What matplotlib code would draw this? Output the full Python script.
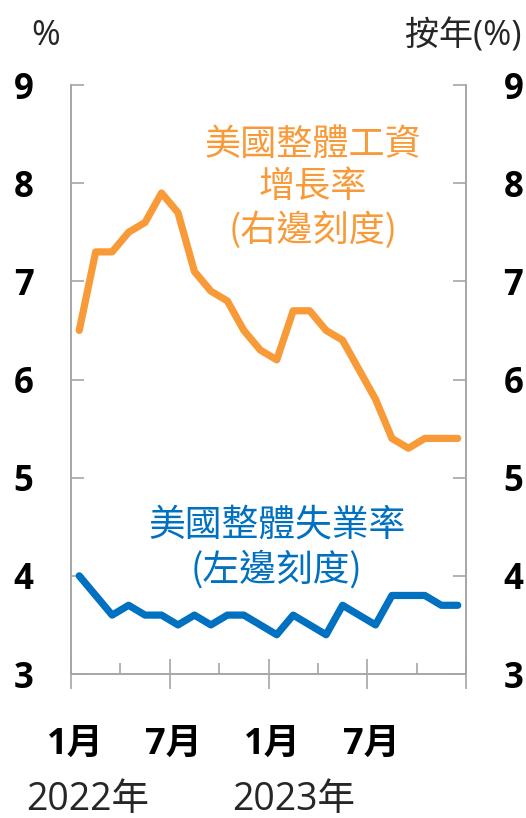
import matplotlib
matplotlib.use("Agg")
import matplotlib.pyplot as plt
import matplotlib.transforms as mtransforms

plt.rcParams['font.family'] = ['Open Sans', 'Noto Sans CJK TC', 'DejaVu Sans']

months = list(range(24))  # Jan 2022 .. Dec 2023
wage_growth = [6.5, 7.3, 7.3, 7.5, 7.6, 7.9, 7.7, 7.1, 6.9, 6.8, 6.5, 6.3,
               6.2, 6.7, 6.7, 6.5, 6.4, 6.1, 5.8, 5.4, 5.3, 5.4, 5.4, 5.4]
unemployment = [4.0, 3.8, 3.6, 3.7, 3.6, 3.6, 3.5, 3.6, 3.5, 3.6, 3.6, 3.5,
                3.4, 3.6, 3.5, 3.4, 3.7, 3.6, 3.5, 3.8, 3.8, 3.8, 3.7, 3.7]
month_labels = ["1月", "7月", "1月", "7月"]
month_label_idx = [0, 6, 12, 18]
year_labels = ["2022年", "2023年"]
year_label_idx = [0.5, 13.0]
yticks = [3, 4, 5, 6, 7, 8, 9]

ORANGE = "#F99A38"
BLUE = "#0070C0"
GRID = "#A6A6A6"
TXT = "#262626"
CJK = ['Open Sans', 'Noto Sans CJK TC', 'DejaVu Sans']

W, H = 526, 818
fig = plt.figure(figsize=(W / 100, H / 100), dpi=100)
ax = fig.add_axes([71 / W, 1 - 674 / H, (466 - 71) / W, (674 - 85) / H])
ax2 = ax.twinx()

ax.plot(months, unemployment, color=BLUE, lw=5.2, solid_capstyle='round',
        solid_joinstyle='round', zorder=3)
ax2.plot(months, wage_growth, color=ORANGE, lw=5.2, solid_capstyle='round',
         solid_joinstyle='round', zorder=3)

for a in (ax, ax2):
    a.set_xlim(-0.5, 23.5)
    a.set_ylim(3, 9)
    a.set_yticks(yticks)
    for s in a.spines.values():
        s.set_color(GRID)
        s.set_linewidth(1.2)
    a.spines['top'].set_visible(False)

ax.tick_params(axis='y', direction='in', length=9.5, width=1.2, color=GRID,
               labelsize=25, labelcolor='black', pad=27)
ax2.tick_params(axis='y', direction='in', length=9.5, width=1.2, color=GRID,
                labelsize=25, labelcolor='black', pad=27)
for lab in ax.get_yticklabels() + ax2.get_yticklabels():
    lab.set_fontweight('bold')

ax.set_xticks([-0.5, 5.5, 11.5, 17.5, 23.5])
ax.set_xticks([2.5, 8.5, 14.5, 20.5], minor=True)
ax.tick_params(axis='x', which='major', direction='inout', length=22, width=1.2,
               color=GRID, labelbottom=False)
ax.tick_params(axis='x', which='minor', direction='in', length=8, width=1.2,
               color=GRID)

trans = mtransforms.blended_transform_factory(ax.transData, fig.transFigure)
for lab, i in zip(month_labels, month_label_idx):
    ax.text(i - 0.25, 1 - 745 / H, lab, transform=trans, ha='center', va='center',
            fontsize=26, color='black', fontweight='bold', family=CJK)
for lab, i in zip(year_labels, year_label_idx):
    ax.text(i, 1 - 800 / H, lab, transform=trans, ha='center', va='center',
            fontsize=27, color=TXT, family=CJK)

fig.text(46 / W, 1 - 36 / H, "%", ha='center', va='center', fontsize=25, color=TXT)
fig.text(521 / W, 1 - 36 / H, "按年(%)", ha='right', va='center', fontsize=24.5, color=TXT)

fig.text(313 / W, 1 - 188 / H, "美國整體工資\n增長率\n(右邊刻度)", ha='center', va='center',
         fontsize=26, color=ORANGE, linespacing=1.2, family=['Noto Sans CJK TC', 'DejaVu Sans'])
fig.text(277 / W, 1 - 548 / H, "美國整體失業率\n(左邊刻度)", ha='center', va='center',
         fontsize=26.5, color=BLUE, linespacing=1.2, family=['Noto Sans CJK TC', 'DejaVu Sans'])

fig.savefig("out.png", dpi=100)
